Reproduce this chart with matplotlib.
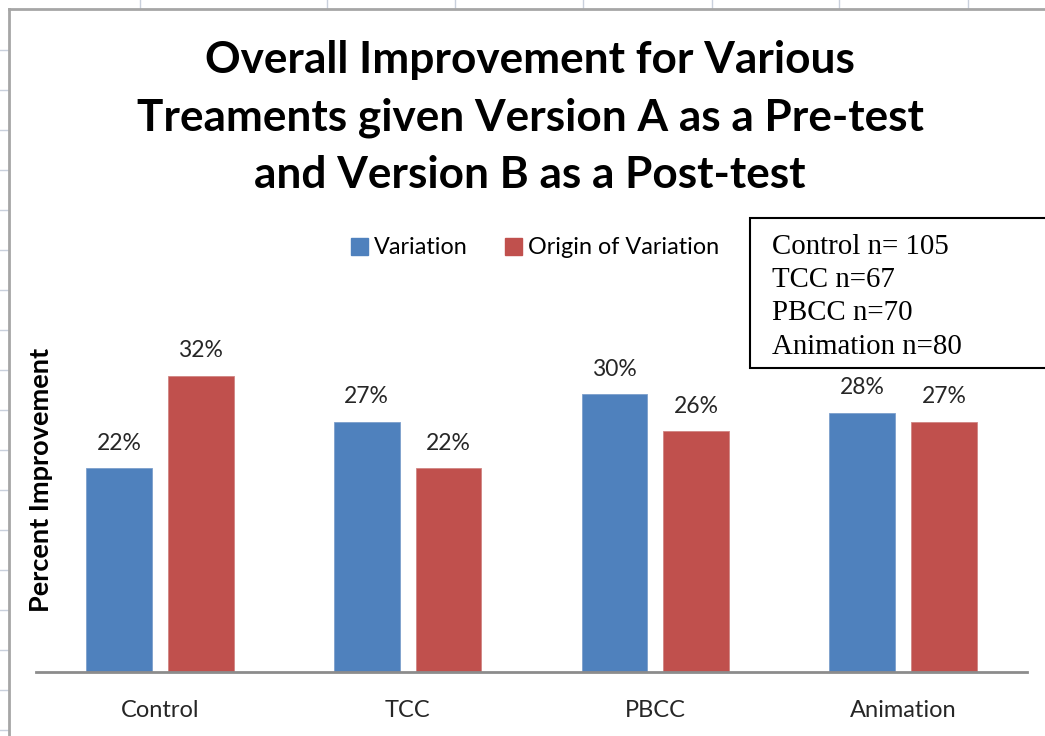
import numpy as np
import matplotlib
matplotlib.use('Agg')
import matplotlib.pyplot as plt
from matplotlib.patches import Rectangle, Patch
from matplotlib.lines import Line2D

# data (percent improvement)
categories = ['Control', 'TCC', 'PBCC', 'Animation']
variation = [22, 27, 30, 28]
origin_of_variation = [32, 22, 26, 27]
series_names = ['Variation', 'Origin of Variation']
sample_notes = ['Control n= 105', 'TCC n=67', 'PBCC n=70', 'Animation n=80']
title_lines = ['Overall Improvement for Various',
               'Treaments given Version A as a Pre-test',
               'and Version B as a Post-test']

BLUE = '#4f81bd'
RED = '#c0504d'
TEXT = '#262626'
W, H = 1045, 736


def fx(px):
    return px / W


def fy(py):
    return 1 - py / H


fig = plt.figure(figsize=(W / 100, H / 100), dpi=100)
fig.patch.set_facecolor('white')

# faint spreadsheet grid peeking out around the chart
grid_c = '#c9d0dc'
for x in [140, 327, 455, 583, 712, 839, 968]:
    fig.add_artist(Line2D([fx(x), fx(x)], [fy(0), fy(9)], color=grid_c, lw=1))
for y in range(50, 736, 40):
    fig.add_artist(Line2D([fx(0), fx(8)], [fy(y), fy(y)], color=grid_c, lw=1))

# chart frame
fig.add_artist(Line2D([fx(9), fx(9)], [fy(9), fy(740)], color='#a6a6a6', lw=2))
fig.add_artist(Line2D([fx(9), fx(1050)], [fy(9), fy(9)], color='#a6a6a6', lw=2))

# plot area
ymax = 35
top_px = 672 - ymax * 9.26
ax = fig.add_axes([fx(36), fy(672), fx(1027) - fx(36), fy(top_px) - fy(672)])
x = np.arange(len(categories))
bw = 0.266
off = 0.165
b1 = ax.bar(x - off, variation, bw, color=BLUE, edgecolor='#7d9fcc', lw=0.6)
b2 = ax.bar(x + off, origin_of_variation, bw, color=RED, edgecolor='#d08583', lw=0.6)
ax.set_xlim(-0.5, len(categories) - 0.5)
ax.set_ylim(0, ymax)

for bars, vals in [(b1, variation), (b2, origin_of_variation)]:
    for b, v in zip(bars, vals):
        ax.annotate(f'{v}%', (b.get_x() + b.get_width() / 2, v), xytext=(0, 18),
                    textcoords='offset points', ha='center', va='center',
                    fontsize=16.5, color=TEXT, family='Lato')

for s in ['top', 'right', 'left']:
    ax.spines[s].set_visible(False)
ax.spines['bottom'].set_color('#8c8c8c')
ax.spines['bottom'].set_linewidth(2)
ax.set_yticks([])
ax.set_xticks(x)
ax.set_xticklabels(categories, fontsize=17, color=TEXT, family='Lato')
ax.tick_params(axis='x', length=0, pad=20)

# y label
fig.text(fx(41), fy(480), 'Percent Improvement', rotation=90, ha='center', va='center',
         fontsize=19.5, fontweight='bold', family='Lato', color='black')

# title
for line, y in zip(title_lines, [60, 118, 175]):
    fig.text(fx(530), fy(y), line, ha='center', va='center', fontsize=31.8,
             fontweight='bold', family='Lato', color='black')

# legend
handles = [Patch(color=BLUE), Patch(color=RED)]
fig.legend(handles, series_names, loc='center', bbox_to_anchor=(fx(535), fy(248)),
           ncol=2, frameon=False, handlelength=0.75, handleheight=0.75,
           handletextpad=0.25, columnspacing=1.6, prop={'family': 'Lato', 'size': 16.8})

# sample-size box
fig.add_artist(Rectangle((fx(750), fy(368)), fx(320), 150 / H, transform=fig.transFigure,
                         facecolor='white', edgecolor='black', lw=1.5))
for note, y in zip(sample_notes, [247, 280, 313, 347]):
    fig.text(fx(772), fy(y), note, ha='left', va='center', fontsize=20.8,
             family='Liberation Serif', color='black')

fig.savefig('out.png', dpi=100)
